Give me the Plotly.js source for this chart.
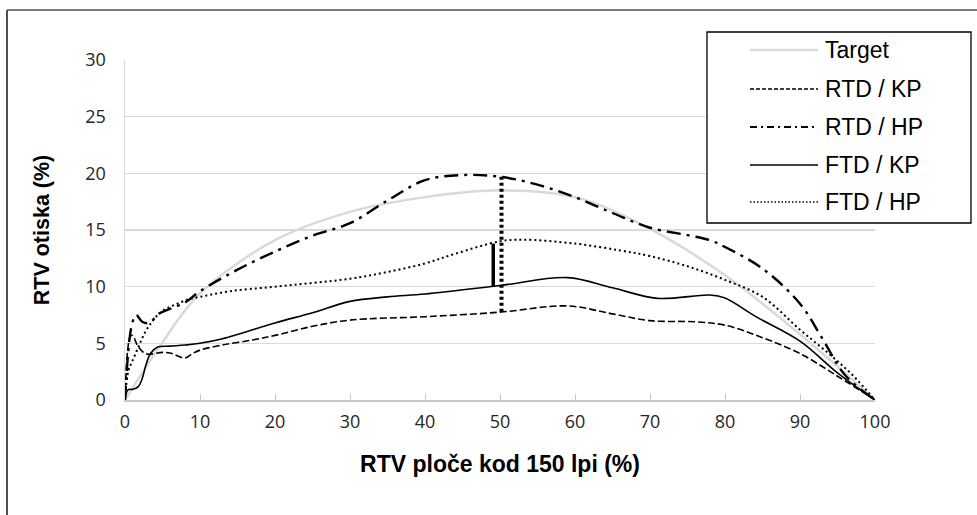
<!DOCTYPE html>
<html>
<head>
<meta charset="utf-8">
<script src="https://cdn.plot.ly/plotly-3.0.1.min.js"></script>
<style>
html,body{margin:0;padding:0;background:#fff;}
#chart{width:977px;height:515px;}
</style>
</head>
<body>
<div id="chart"></div>
<script>
// ---- data ----
const seriesNames = ["Target", "RTD / KP", "RTD / HP", "FTD / KP", "FTD / HP"];

const targetX = [0, 2.5, 5, 10, 20, 30, 40, 50, 60, 70, 80, 90, 100];
const targetY = [0, 2.6, 5.1, 9.4, 14.1, 16.6, 17.9, 18.5, 17.9, 15.1, 11.0, 5.8, 0];

const rtdKpX = [0, 0.7, 1.0, 1.6, 2.3, 3.0, 5.0, 6.0, 8.0, 9.0, 10, 13, 17, 20, 25, 30, 40, 50, 59, 65, 70, 76, 80, 85, 90, 95, 100];
const rtdKpY = [0, 5.6, 5.7, 4.9, 4.3, 4.05, 4.2, 4.15, 3.7, 4.1, 4.4, 4.85, 5.3, 5.7, 6.5, 7.05, 7.35, 7.75, 8.3, 7.6, 7.0, 6.9, 6.6, 5.5, 4.1, 2.1, 0];

const rtdHpX = [0, 0.9, 1.5, 2.3, 3.2, 4.5, 6.2, 8, 10, 15, 20, 25, 30, 35, 40, 45, 50, 55, 60, 65, 70, 75, 78, 80, 85, 90, 93, 96, 100];
const rtdHpY = [0, 6.6, 7.5, 6.9, 6.8, 7.6, 8.1, 8.6, 9.6, 11.5, 13.1, 14.5, 15.6, 17.6, 19.4, 19.85, 19.7, 19.0, 17.9, 16.5, 15.2, 14.55, 14.1, 13.5, 11.6, 8.5, 5.4, 2.2, 0];

const ftdKpX = [0, 0.4, 1.1, 1.8, 2.3, 2.8, 3.4, 4.3, 6, 8, 10, 13, 20, 25, 30, 35, 40, 50, 59, 65, 71, 78, 80, 84, 90, 95, 100];
const ftdKpY = [0, 0.9, 0.95, 1.2, 1.9, 3.1, 4.1, 4.65, 4.75, 4.85, 5.0, 5.4, 6.8, 7.7, 8.7, 9.1, 9.35, 10.1, 10.8, 9.9, 8.97, 9.26, 9.0, 7.4, 5.2, 2.4, 0];

const ftdHpX = [0, 0.45, 0.9, 1.8, 2.7, 3.6, 4.5, 5.6, 7, 8.5, 10, 14, 20, 30, 35, 40, 44, 50, 53, 60, 66, 70, 75, 80, 85, 90, 94, 97, 100];
const ftdHpY = [0, 2.6, 3.3, 4.7, 6.0, 6.9, 7.6, 8.1, 8.5, 8.9, 9.1, 9.6, 10.0, 10.7, 11.3, 12.05, 12.9, 14.0, 14.15, 13.8, 13.2, 12.7, 11.8, 10.6, 9.1, 6.2, 4.0, 2.2, 0];

// difference markers at 50 %
const rtdGapX = [50.2, 50.2];
const rtdGapY = [19.7, 7.75];
const ftdGapX = [49.1, 49.1];
const ftdGapY = [13.8, 10.0];

const xTicks = [0, 10, 20, 30, 40, 50, 60, 70, 80, 90, 100];
const yTicks = [0, 5, 10, 15, 20, 25, 30];
const xTitle = "RTV ploče kod 150 lpi (%)";
const yTitle = "RTV otiska (%)";

// ---- styles ----
const styles = [
  {color: "#d9d9d9", width: 2.5, dash: "solid"},
  {color: "#000000", width: 1.6, dash: "7px,3px"},
  {color: "#000000", width: 2.4, dash: "14px,6px,3px,6px"},
  {color: "#000000", width: 1.6, dash: "solid"},
  {color: "#000000", width: 2.0, dash: "2px,3px"}
];
const legendStyles = [
  {color: "#d9d9d9", width: 2.5, dash: "solid"},
  {color: "#000000", width: 1.3, dash: "4px,2px"},
  {color: "#000000", width: 2.0, dash: "7px,4px,2px,4px"},
  {color: "#000000", width: 1.6, dash: "solid"},
  {color: "#000000", width: 1.5, dash: "1.5px,2px"}
];

const xs = [targetX, rtdKpX, rtdHpX, ftdKpX, ftdHpX];
const ys = [targetY, rtdKpY, rtdHpY, ftdKpY, ftdHpY];

const traces = xs.map((x, i) => ({
  type: "scatter", mode: "lines", name: seriesNames[i],
  x: x, y: ys[i],
  line: {color: styles[i].color, width: styles[i].width, dash: styles[i].dash, shape: "spline", smoothing: 1},
  showlegend: false, hoverinfo: "x+y+name"
}));
traces.push({type: "scatter", mode: "lines", x: rtdGapX, y: rtdGapY, showlegend: false,
  line: {color: "#000", width: 4, dash: "3px,3px"}});
traces.push({type: "scatter", mode: "lines", x: ftdGapX, y: ftdGapY, showlegend: false,
  line: {color: "#000", width: 3.5}});

// ---- layout geometry (pixels -> paper) ----
const L = 125, R = 875, T = 60, B = 400;
const px = v => (v - L) / (R - L);
const py = v => (B - v) / (B - T);

const shapes = [
  // outer chart frame (extends beyond the visible window on right/bottom)
  {type: "line", xref: "paper", yref: "paper", x0: px(7), x1: px(1000), y0: py(10), y1: py(10),
   line: {color: "#505050", width: 1.5}, layer: "above"},
  {type: "line", xref: "paper", yref: "paper", x0: px(7), x1: px(7), y0: py(10), y1: py(600),
   line: {color: "#505050", width: 2}, layer: "above"},
  // legend box
  {type: "rect", xref: "paper", yref: "paper",
   x0: px(707), x1: px(971), y0: py(223), y1: py(32),
   line: {color: "#000", width: 1.3}, fillcolor: "#fff", layer: "above"}
];
const annotations = [];
const entryY = [50, 89, 127, 165, 202];
seriesNames.forEach((n, i) => {
  shapes.push({type: "line", xref: "paper", yref: "paper",
    x0: px(750), x1: px(818), y0: py(entryY[i]), y1: py(entryY[i]),
    line: {color: legendStyles[i].color, width: legendStyles[i].width, dash: legendStyles[i].dash}, layer: "above"});
  annotations.push({xref: "paper", yref: "paper", x: px(823), y: py(entryY[i]),
    xanchor: "left", yanchor: "middle", showarrow: false, text: n,
    font: {family: "Liberation Sans, Arial, sans-serif", size: 23, color: "#000"}});
});

const layout = {
  width: 977, height: 515,
  margin: {l: L, r: 977 - R, t: T, b: 515 - B},
  paper_bgcolor: "#fff", plot_bgcolor: "#fff",
  showlegend: false,
  xaxis: {
    range: [0, 100], tickvals: xTicks, ticktext: xTicks.map(String),
    showgrid: false, zeroline: false,
    showline: true, linecolor: "#c8c8c8", linewidth: 1.5,
    ticks: "inside", ticklen: 6, tickcolor: "#c8c8c8", tickwidth: 1,
    ticklabelstandoff: 5,
    tickfont: {family: "Open Sans, sans-serif", size: 18, color: "#262626"},
    title: {text: xTitle, standoff: 24,
      font: {family: "Liberation Sans, Arial, sans-serif", size: 23, color: "#000", weight: "bold"}}
  },
  yaxis: {
    range: [0, 30], tickvals: yTicks, ticktext: yTicks.map(String),
    showgrid: true, gridcolor: "#d9d9d9", gridwidth: 1.5,
    zeroline: false, showline: true, linecolor: "#d9d9d9", linewidth: 1.5,
    ticks: "", ticklabelstandoff: 14,
    tickfont: {family: "Open Sans, sans-serif", size: 18, color: "#262626"},
    title: {text: yTitle, standoff: 30,
      font: {family: "Liberation Sans, Arial, sans-serif", size: 21.5, color: "#000", weight: "bold"}}
  },
  shapes: shapes,
  annotations: annotations
};

Plotly.newPlot("chart", traces, layout, {displayModeBar: false, staticPlot: true});
</script>
</body>
</html>
